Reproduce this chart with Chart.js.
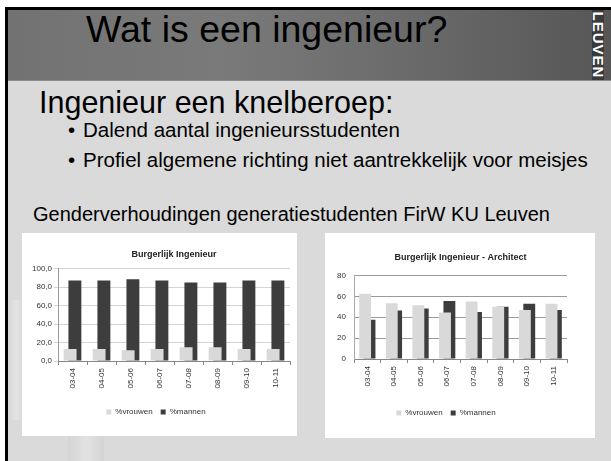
<!DOCTYPE html>
<html>
<head>
<meta charset="utf-8">
<script src="https://cdn.jsdelivr.net/npm/chart.js@4/dist/chart.umd.min.js"></script>
<style>
  html, body { margin: 0; padding: 0; background: #fff; }
  body { width: 611px; height: 461px; position: relative; overflow: hidden; font-family: "Liberation Sans", Arial, sans-serif; }
  .abs { position: absolute; white-space: nowrap; }
  #frame { left: 5px; top: 7px; width: 606px; height: 454px; border-left: 3px solid #000; border-top: 3px solid #000; background: #dadada; box-sizing: border-box; }
  #header { left: 8px; top: 10px; width: 603px; height: 70px; background: linear-gradient(to right, #727272 0%, #7a7a7a 35%, #6e6e6e 60%, #565656 100%); border-bottom: 1px solid #8c8c8c; }
  #logo { left: 592px; top: 10px; width: 12px; height: 70px; background: #3a3a3a; overflow: hidden; }
  #logo span { position: absolute; left: 6px; top: 35px; transform: translate(-50%, -50%) rotate(90deg); color: #fff; font-weight: bold; font-size: 15px; line-height: 15px; letter-spacing: 1px; }
  .txt { line-height: 1; color: #000; }
  #ghost { left: 68px; top: 415px; width: 36px; height: 46px; background: linear-gradient(to right, #d4d4d4, #e2e2e2 50%, #d4d4d4); }
  #ghost2 { left: 8px; top: 300px; width: 14px; height: 120px; background: linear-gradient(to right, #d6d6d6, #e4e4e4 60%, #dadada); }
  .box { position: absolute; background: #fff; }
  canvas { display: block; }
</style>
</head>
<body>
<div id="frame" class="abs"></div>
<div id="ghost" class="abs"></div>
<div id="ghost2" class="abs"></div>
<div id="header" class="abs"></div>
<div id="logo" class="abs"><span>LEUVEN</span></div>

<div class="abs txt" style="left:86px; top:11px; font-size:37.5px;">Wat is een ingenieur?</div>
<div class="abs txt" style="left:39px; top:87px; font-size:30.5px;">Ingenieur een knelberoep:</div>
<div class="abs txt" style="left:68px; top:120px; font-size:20.5px;">&bull;</div>
<div class="abs txt" style="left:83px; top:120px; font-size:20.5px;">Dalend aantal ingenieursstudenten</div>
<div class="abs txt" style="left:68px; top:150px; font-size:20.5px;">&bull;</div>
<div class="abs txt" style="left:83px; top:150px; font-size:20.5px;">Profiel algemene richting niet aantrekkelijk voor meisjes</div>
<div class="abs txt" style="left:33px; top:204px; font-size:20px;">Genderverhoudingen generatiestudenten FirW KU Leuven</div>

<div class="box" style="left:22px; top:233px;"><canvas id="burg" width="275" height="203"></canvas></div>
<div class="box" style="left:325px; top:233px;"><canvas id="arch" width="270" height="205"></canvas></div>

<script>
// academic years (generatiestudenten)
const seasons = ['03-04', '04-05', '05-06', '06-07', '07-08', '08-09', '09-10', '10-11'];
const seriesNames = ['%vrouwen', '%mannen'];

// Burgerlijk Ingenieur
const burgVrouwen = [13, 13, 11.5, 13, 15, 15, 13, 13];
const burgMannen = [87, 87, 88.5, 87, 85, 85, 87, 87];
const burgTickLabels = ['0,0', '20,0', '40,0', '60,0', '80,0', '100,0'];

// Burgerlijk Ingenieur - Architect
const archVrouwen = [62.5, 53.5, 51.5, 44.5, 55, 50, 47, 53];
const archMannen = [37.5, 46.5, 48.5, 55.5, 45, 50, 53, 47];
const archTickLabels = ['0', '20', '40', '60', '80'];

Chart.defaults.font.family = '"Liberation Sans", Arial, sans-serif';
Chart.defaults.color = '#333';

function makeChart(id, title, vrouwen, mannen, yMax, tickLabels, lay) {
  const ctx = document.getElementById(id).getContext('2d');
  return new Chart(ctx, {
    type: 'bar',
    data: {
      labels: seasons,
      datasets: [
        { label: seriesNames[0], data: vrouwen, backgroundColor: '#d9d9d9', categoryPercentage: 0.33, barPercentage: 2.7 },
        { label: seriesNames[1], data: mannen, backgroundColor: '#3d3d3d', categoryPercentage: 0.33, barPercentage: 2.7 }
      ]
    },
    options: {
      responsive: false,
      animation: false,
      layout: { padding: { left: 0, right: lay.right, top: 0, bottom: lay.bottom } },
      plugins: {
        title: {
          display: true, text: title, fullSize: false, color: '#222',
          font: { size: 9, weight: 'bold' },
          padding: { top: lay.titleTop, bottom: lay.titleBottom }
        },
        legend: {
          position: 'bottom',
          labels: { boxWidth: 5, boxHeight: 5, padding: 8, color: '#333', font: { size: 8 } }
        },
        tooltip: { enabled: false }
      },
      scales: {
        x: {
          grid: { drawOnChartArea: false, tickLength: 4, color: '#888' },
          border: { color: '#888' },
          ticks: { maxRotation: 90, minRotation: 90, autoSkip: false, padding: 3, font: { size: 8 }, color: '#333' },
          afterFit: s => { s.height = lay.xHeight; }
        },
        y: {
          min: 0, max: yMax,
          ticks: { stepSize: 20, padding: lay.yPad, font: { size: 8 }, color: '#333', callback: (v, i) => tickLabels[i] },
          grid: { color: lay.gridColor, drawTicks: lay.yTicks, tickLength: 4 },
          border: { color: lay.axisColor },
          afterFit: s => { s.width = lay.yWidth; }
        }
      }
    }
  });
}

makeChart('burg', 'Burgerlijk Ingenieur', burgVrouwen, burgMannen, 100, burgTickLabels, {
  right: 7, bottom: 10, titleTop: 16.5, titleBottom: 8.2, xHeight: 39,
  yWidth: 36, yPad: 2, yTicks: true, gridColor: '#d4d4d4', axisColor: '#999'
});

makeChart('arch', 'Burgerlijk Ingenieur - Architect', archVrouwen, archMannen, 80, archTickLabels, {
  right: 28, bottom: 11, titleTop: 19.6, titleBottom: 12.1, xHeight: 42,
  yWidth: 29, yPad: 8, yTicks: false, gridColor: '#9a9a9a', axisColor: '#aaa'
});
</script>
</body>
</html>
